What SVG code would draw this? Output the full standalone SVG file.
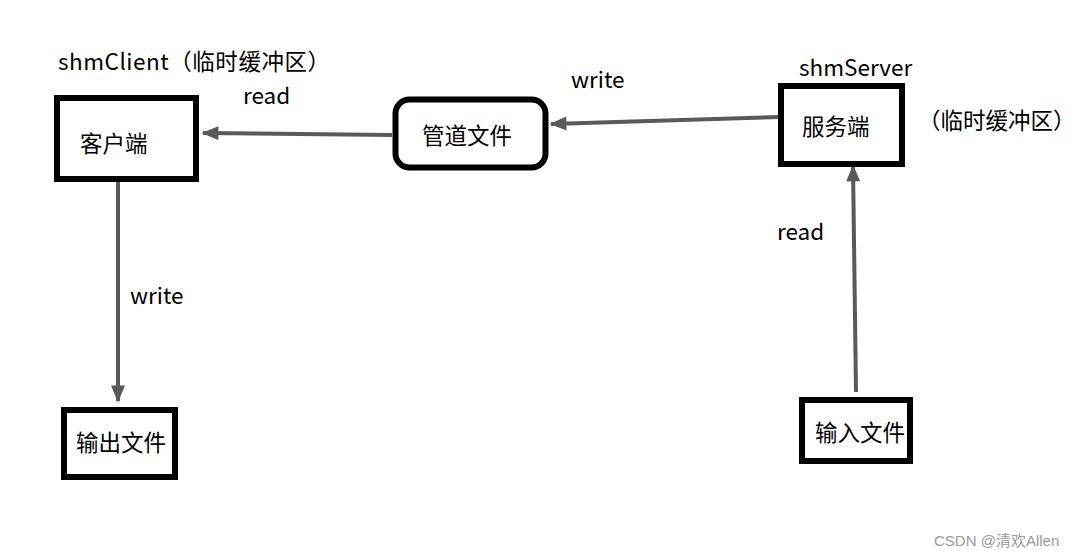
<svg xmlns="http://www.w3.org/2000/svg" width="1081" height="558" viewBox="0 0 1081 558">
<style>
.box{fill:#fff;stroke:#000;stroke-width:6}
.t{font-family:"Noto Sans CJK SC","Noto Sans",sans-serif;font-size:22.5px;fill:#000}
.lbl{font-family:"Noto Sans CJK SC","Noto Sans",sans-serif;font-size:22.5px;fill:#000}
.con{stroke:#5a5a5a;stroke-width:4;fill:none}
.wm{font-family:"Liberation Sans","Noto Sans CJK SC",sans-serif;font-size:15px;fill:#999}
</style>
<defs>
<marker id="ah" viewBox="0 0 12 10" refX="11" refY="5" markerWidth="4.5" markerHeight="3.5" orient="auto" markerUnits="strokeWidth">
<path d="M0,0 L12,5 L0,10 z" fill="#5a5a5a"/>
</marker>
</defs>
<rect width="1081" height="558" fill="#fff"/>
<g id="connectors">
<line class="con" x1="392" y1="135" x2="203" y2="133" marker-end="url(#ah)"/>
<line class="con" x1="778" y1="117" x2="551" y2="124" marker-end="url(#ah)"/>
<line class="con" x1="118" y1="182" x2="118" y2="401" stroke-width="3" marker-end="url(#ah)"/>
<line class="con" x1="856" y1="392" x2="853" y2="166" marker-end="url(#ah)"/>
</g>
<g id="client">
<rect class="box" x="57" y="98" width="139" height="81"/>
<text class="t" x="80" y="152">客户端</text>
</g>
<g id="pipe">
<rect class="box" x="395.5" y="99.5" width="150" height="68" rx="14" stroke-width="5"/>
<text class="t" x="422" y="144">管道文件</text>
</g>
<g id="server">
<rect class="box" x="781" y="86" width="121" height="78"/>
<text class="t" x="802" y="135">服务端</text>
</g>
<g id="output">
<rect class="box" x="64" y="410" width="111" height="67"/>
<text class="t" x="76" y="451">输出文件</text>
</g>
<g id="input">
<rect class="box" x="802" y="400" width="108" height="61"/>
<text class="t" x="815" y="441">输入文件</text>
</g>
<g id="labels">
<text class="lbl" x="58" y="70" textLength="272" lengthAdjust="spacing">shmClient（临时缓冲区）</text>
<text class="lbl" x="243" y="104">read</text>
<text class="lbl" x="571" y="88">write</text>
<text class="lbl" x="799" y="76">shmServer</text>
<text class="lbl" x="918" y="129">（临时缓冲区）</text>
<text class="lbl" x="130" y="304">write</text>
<text class="lbl" x="777" y="240">read</text>
<text class="wm" x="934" y="546">CSDN @清欢Allen</text>
</g>
</svg>
